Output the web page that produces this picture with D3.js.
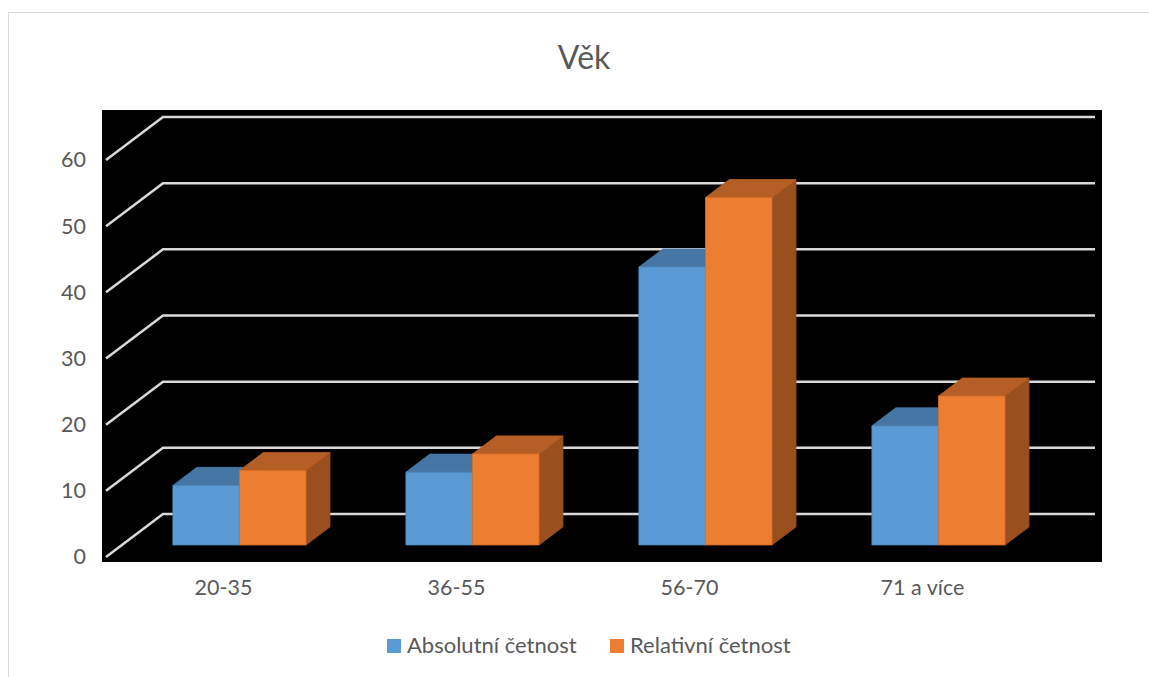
<!DOCTYPE html>
<html>
<head>
<meta charset="utf-8">
<script src="https://cdn.jsdelivr.net/npm/d3@7"></script>
<style>
  body { margin: 0; background: #fff; }
  text { font-family: Lato, "Open Sans", sans-serif; fill: #595959; }
</style>
</head>
<body>
<div id="container"></div>
<script>
// data
var categories = ["20-35", "36-55", "56-70", "71 a více"];
var seriesNames = ["Absolutní četnost", "Relativní četnost"];
var absolutni = [9, 11, 42, 18];
var relativni = [11.25, 13.75, 52.5, 22.5];
var yTicks = [0, 10, 20, 30, 40, 50, 60];

var width = 1149, height = 677;

// face colours per series: front, top, side
var colors = {
  "Absolutní četnost": { front: "#5B9BD5", top: "#4676A3", side: "#3B6690", edge: "#4E89BF" },
  "Relativní četnost": { front: "#ED7D31", top: "#B55E25", side: "#9A4F1E", edge: "#D66D27" }
};

// depth of the 3d box (px) and where the bars sit in it
var depthX = 57, depthY = 43;
var barFront = 0.28, barBack = 0.70;

var svg = d3.select("#container").append("svg")
  .attr("width", width)
  .attr("height", height);

// chart frame
svg.append("rect")
  .attr("x", 8.5).attr("y", 12.5)
  .attr("width", 1200).attr("height", 700)
  .attr("fill", "none")
  .attr("stroke", "#d9d9d9");

// title
svg.append("text")
  .attr("x", 584).attr("y", 69)
  .attr("text-anchor", "middle")
  .style("font-size", "32px")
  .text("Věk");

// plot area
svg.append("rect")
  .attr("x", 102).attr("y", 110)
  .attr("width", 1000).attr("height", 452)
  .attr("fill", "#000");

// scales (front plane)
var x = d3.scaleBand().domain(categories).range([107, 1039]);
var xs = d3.scaleBand().domain(seriesNames).range([0, x.bandwidth()])
  .paddingInner(0).paddingOuter(0.75);
var y = d3.scaleLinear().domain([0, 60]).range([557, 160]);

// project a point on the front plane into depth d (0 = front, 1 = back wall)
function proj(px, py, d) {
  return [px + d * depthX, py - d * depthY];
}

// gridlines: diagonal on the side wall + horizontal on the back wall
var grid = svg.append("g");
yTicks.forEach(function(t) {
  var a = proj(106, y(t), 0);
  var b = proj(106, y(t), 1);
  var c = proj(1038, y(t), 1);
  grid.append("path")
    .attr("d", d3.line()([a, b, c]))
    .attr("fill", "none")
    .attr("stroke", "#d9d9d9")
    .attr("stroke-width", 2.5);
});

// bars
var bars = [];
categories.forEach(function(cat, i) {
  bars.push({ cat: cat, series: seriesNames[0], value: absolutni[i] });
  bars.push({ cat: cat, series: seriesNames[1], value: relativni[i] });
});

var barG = svg.append("g");
bars.forEach(function(b) {
  var x0 = x(b.cat) + xs(b.series);
  var x1 = x0 + xs.bandwidth();
  var y0 = y(0), y1 = y(b.value);
  var c = colors[b.series];

  var fBL = proj(x0, y0, barFront), fBR = proj(x1, y0, barFront);
  var fTL = proj(x0, y1, barFront), fTR = proj(x1, y1, barFront);
  var bBR = proj(x1, y0, barBack);
  var bTL = proj(x0, y1, barBack), bTR = proj(x1, y1, barBack);

  var line = d3.line();
  // side
  barG.append("path")
    .attr("d", line([fBR, fTR, bTR, bBR]) + "Z")
    .attr("fill", c.side).attr("stroke", c.side).attr("stroke-width", 0.8);
  // top
  barG.append("path")
    .attr("d", line([fTL, fTR, bTR, bTL]) + "Z")
    .attr("fill", c.top).attr("stroke", c.top).attr("stroke-width", 0.8);
  // front
  barG.append("path")
    .attr("d", line([fBL, fBR, fTR, fTL]) + "Z")
    .attr("fill", c.front).attr("stroke", c.edge).attr("stroke-width", 0.8);
});

// y axis labels (front edge)
var yAxis = svg.append("g")
  .attr("transform", "translate(86,0)")
  .call(d3.axisLeft(y).tickValues(yTicks).tickSize(0).tickPadding(0));
yAxis.select(".domain").remove();
yAxis.selectAll("text")
  .style("font-size", "21.5px")
  .style("font-family", "Lato, 'Open Sans', sans-serif")
  .attr("fill", "#595959");

// category labels
var xAxis = svg.append("g")
  .attr("transform", "translate(0,578)")
  .call(d3.axisBottom(x).tickSize(0).tickPadding(2));
xAxis.select(".domain").remove();
xAxis.selectAll("text")
  .style("font-size", "21.5px")
  .style("font-family", "Lato, 'Open Sans', sans-serif")
  .attr("fill", "#595959");

// legend
var legendX = [387, 610];
var legend = svg.append("g");
seriesNames.forEach(function(s, i) {
  legend.append("rect")
    .attr("x", legendX[i]).attr("y", 639)
    .attr("width", 14).attr("height", 14)
    .attr("fill", colors[s].front);
  legend.append("text")
    .attr("x", legendX[i] + 20).attr("y", 653)
    .style("font-size", "22px")
    .text(s);
});
</script>
</body>
</html>
